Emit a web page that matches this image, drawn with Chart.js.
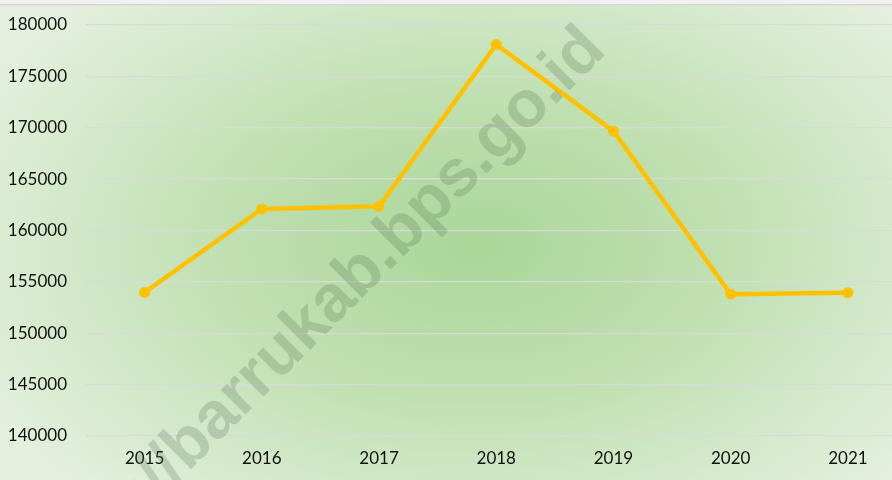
<!DOCTYPE html>
<html>
<head>
<meta charset="utf-8">
<script src="https://cdn.jsdelivr.net/npm/chart.js@4"></script>
<style>
  html, body { margin: 0; padding: 0; background: #ffffff; overflow: hidden; }
  #wrap { width: 892px; height: 480px; overflow: hidden; position: relative; }
  #holder { width: 912px; height: 480px; position: absolute; left: 0; top: 0; }
</style>
</head>
<body>
<div id="wrap"><div id="holder"><canvas id="lineChart"></canvas></div></div>
<script>
const years = ['2015', '2016', '2017', '2018', '2019', '2020', '2021'];
const values = [153975, 162100, 162350, 178100, 169670, 153800, 153950];
const yMin = 140000;
const yMax = 180000;
const yStep = 5000;
const watermark = 'https://barrukab.bps.go.id';

// radial green fill behind everything, plus the thin top border
const backdrop = {
    id: 'backdrop',
    beforeDraw(chart) {
        const ctx = chart.ctx;
        const w = chart.width, h = chart.height;
        ctx.save();
        ctx.fillStyle = '#e4f0de';
        ctx.fillRect(0, 0, w, h);
        ctx.translate(475, 245);
        ctx.scale(1, 0.62);
        const g = ctx.createRadialGradient(0, 0, 0, 0, 0, 560);
        g.addColorStop(0, 'rgb(170,214,152)');
        g.addColorStop(0.45, 'rgb(192,224,178)');
        g.addColorStop(1, 'rgb(228,240,222)');
        ctx.fillStyle = g;
        ctx.fillRect(-600, -600, 1200, 1200);
        ctx.restore();
        ctx.save();
        ctx.fillStyle = '#f0f0f0';
        ctx.fillRect(0, 0, w, 4);
        ctx.fillStyle = '#d6d6d6';
        ctx.fillRect(0, 4, w, 1.5);
        ctx.restore();
    }
};

// diagonal site watermark drawn above the line
const stamp = {
    id: 'stamp',
    afterDraw(chart) {
        const ctx = chart.ctx;
        ctx.save();
        ctx.translate(320, 340);
        ctx.rotate(-Math.PI / 4);
        ctx.font = 'bold 66px "Liberation Sans", Arial, sans-serif';
        ctx.textAlign = 'center';
        ctx.textBaseline = 'alphabetic';
        ctx.fillStyle = 'rgba(80,110,80,0.24)';
        ctx.fillText(watermark, 0, 0);
        ctx.restore();
    }
};

new Chart(document.getElementById('lineChart'), {
    type: 'line',
    data: {
        labels: years,
        datasets: [{
            data: values,
            borderColor: '#FFC000',
            backgroundColor: '#FFC000',
            borderWidth: 4.5,
            pointRadius: 5.5,
            pointBorderWidth: 0,
            pointHoverRadius: 5.5,
            tension: 0,
            fill: false
        }]
    },
    options: {
        responsive: true,
        maintainAspectRatio: false,
        animation: false,
        layout: { padding: { top: 25, left: 0, right: 0, bottom: 0 } },
        plugins: { legend: { display: false }, tooltip: { enabled: false } },
        scales: {
            x: {
                offset: true,
                grid: { display: false, drawTicks: false },
                border: { display: false },
                ticks: { color: '#111111', font: { family: 'Lato', size: 17 }, padding: 12, maxRotation: 0 },
                afterFit(scale) { scale.height = 44; scale.paddingLeft = 0; scale.paddingRight = 0; }
            },
            y: {
                min: yMin,
                max: yMax,
                grid: { color: '#d9d9d9', lineWidth: 1.3, drawTicks: false },
                border: { display: false },
                ticks: {
                    stepSize: yStep,
                    color: '#111111',
                    font: { family: 'Lato', size: 17 },
                    padding: 19,
                    callback: v => String(v)
                },
                afterFit(scale) { scale.width = 86; scale.paddingTop = 0; scale.paddingBottom = 0; }
            }
        }
    },
    plugins: [backdrop, stamp]
});
</script>
</body>
</html>
